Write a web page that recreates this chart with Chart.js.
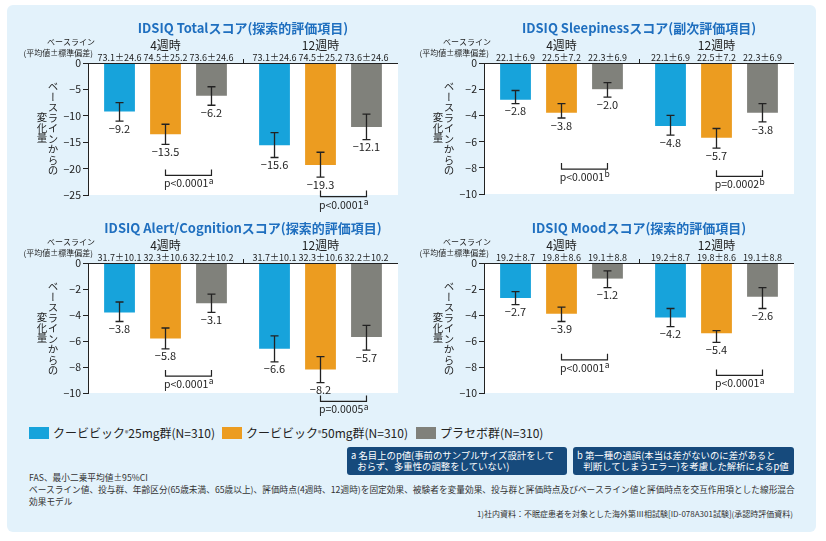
<!DOCTYPE html>
<html lang="ja">
<head>
<meta charset="utf-8">
<script src="https://cdn.jsdelivr.net/npm/chart.js@4.4.1/dist/chart.umd.min.js"></script>
<style>
  html, body { margin: 0; padding: 0; background: #fff; }
  body { width: 826px; height: 541px; position: relative; overflow: hidden; font-family: "Noto Sans CJK JP", "Noto Sans", sans-serif; color: #222; }
  #panel { position: absolute; left: 7px; top: 5px; width: 809px; height: 527px; background: #e3f2fb; border-radius: 6px; }
  canvas { position: absolute; }
  .ytitle { position: absolute; writing-mode: vertical-rl; font-size: 10.5px; line-height: 11px; width: 22px; height: 100px; text-align: center; white-space: nowrap; }
  .leg { position: absolute; top: 427px; font-size: 12px; line-height: 12px; display: flex; align-items: center; white-space: nowrap; }
  .leg i { display: inline-block; width: 20px; height: 12px; margin-right: 4px; }
  .leg sup { font-size: 7px; line-height: 0; }
  .note { position: absolute; top: 447px; height: 28px; background: #164a7c; color: #fff; border-radius: 3px; font-size: 9.4px; line-height: 11px; padding: 3px 0 0 4px; box-sizing: border-box; white-space: nowrap; }
  .foot { position: absolute; left: 29px; font-size: 8.7px; line-height: 12px; white-space: nowrap; color: #333; }
</style>
</head>
<body>
<div id="panel"></div>
<canvas id="total" width="413" height="212" style="left:0;top:0"></canvas>
<canvas id="sleep" width="413" height="212" style="left:413px;top:0"></canvas>
<canvas id="alert" width="413" height="208" style="left:0;top:212px"></canvas>
<canvas id="mood" width="413" height="208" style="left:413px;top:212px"></canvas>
<div id="legend"></div>
<div class="note" style="left:347px;width:220px">a 名目上のp値(事前のサンプルサイズ設計をして<br>&nbsp;&nbsp;&nbsp;おらず、多重性の調整をしていない)</div>
<div class="note" style="left:573px;width:221px">b 第一種の過誤(本当は差がないのに差があると<br>&nbsp;&nbsp;&nbsp;判断してしまうエラー)を考慮した解析によるp値</div>
<div class="foot" style="top:472px">FAS、最小二乗平均値±95%CI</div>
<div class="foot" style="top:484px">ベースライン値、投与群、年齢区分(65歳未満、65歳以上)、評価時点(4週時、12週時)を固定効果、被験者を変量効果、投与群と評価時点及びベースライン値と評価時点を交互作用項とした線形混合</div>
<div class="foot" style="top:496px">効果モデル</div>
<div class="foot" style="top:508px;left:auto;right:33px;font-size:8px">1)社内資料：不眠症患者を対象とした海外第Ⅲ相試験[ID-078A301試験](承認時評価資料)</div>
<script>
const visits = ["4週時", "12週時"];
const groupNames = ["クービビック®25mg群(N=310)", "クービビック®50mg群(N=310)", "プラセボ群(N=310)"];
const groupColors = ["#17a3db", "#ec9c20", "#80817b"];

// IDSIQ Total
const totalBase = ["73.1±24.6", "74.5±25.2", "73.6±24.6"];
const total25 = [-9.2, -15.6];
const total50 = [-13.5, -19.3];
const totalPbo = [-6.2, -12.1];
const total25Ci = [[-11.0, -7.5], [-17.9, -13.2]];
const total50Ci = [[-15.4, -11.6], [-21.6, -16.9]];
const totalPboCi = [[-8.0, -4.5], [-14.5, -9.7]];
const totalBracket = [-21.3, -25.3];
const totalP = ["p<0.0001", "p<0.0001"];

// IDSIQ Sleepiness
const sleepBase = ["22.1±6.9", "22.5±7.2", "22.3±6.9"];
const sleep25 = [-2.8, -4.8];
const sleep50 = [-3.8, -5.7];
const sleepPbo = [-2.0, -3.8];
const sleep25Ci = [[-3.1, -2.1], [-5.5, -4.0]];
const sleep50Ci = [[-4.2, -3.1], [-6.5, -5.0]];
const sleepPboCi = [[-2.6, -1.5], [-4.5, -3.1]];
const sleepBracket = [-8.1, -8.65];
const sleepP = ["p<0.0001", "p=0.0002"];

// IDSIQ Alert/Cognition
const alertBase = ["31.7±10.1", "32.3±10.6", "32.2±10.2"];
const alert25 = [-3.8, -6.6];
const alert50 = [-5.8, -8.2];
const alertPbo = [-3.1, -5.7];
const alert25Ci = [[-4.5, -3.0], [-7.6, -5.6]];
const alert50Ci = [[-6.6, -5.0], [-9.2, -7.2]];
const alertPboCi = [[-3.8, -2.4], [-6.7, -4.8]];
const alertBracket = [-8.7, -10.65];
const alertP = ["p<0.0001", "p=0.0005"];

// IDSIQ Mood
const moodBase = ["19.2±8.7", "19.8±8.6", "19.1±8.8"];
const mood25 = [-2.7, -4.2];
const mood50 = [-3.9, -5.4];
const moodPbo = [-1.2, -2.6];
const mood25Ci = [[-3.2, -2.2], [-4.9, -3.5]];
const mood50Ci = [[-4.5, -3.4], [-6.1, -5.2]];
const moodPboCi = [[-1.9, -0.6], [-3.5, -1.9]];
const moodBracket = [-7.45, -8.65];
const moodP = ["p<0.0001", "p<0.0001"];

const ff = '"Noto Sans CJK JP", "Noto Sans", sans-serif';
const ink = "#222";
const fmt = v => (v < 0 ? "\u2212" : "") + Math.abs(v).toFixed(1);

function annot(spec) {
    return {
        id: "annot",
        beforeDraw(chart) {
            const { ctx, chartArea: a } = chart;
            ctx.save();
            ctx.fillStyle = "#fff";
            ctx.fillRect(a.left, a.top, a.right - a.left, a.bottom - a.top);
            ctx.restore();
        },
        afterDatasetsDraw(chart) {
            const { ctx, chartArea: a, scales: { x, y } } = chart;
            const bars = [0, 1, 2].map(d => chart.getDatasetMeta(d).data);
            ctx.save();
            ctx.strokeStyle = ink;
            ctx.fillStyle = ink;
            ctx.textAlign = "center";
            ctx.textBaseline = "middle";

            // top axis line and the tick between the visits
            const sep = Math.round((x.getPixelForValue(0) + x.getPixelForValue(1)) / 2) + 0.5;
            ctx.lineWidth = 1;
            ctx.beginPath();
            ctx.moveTo(a.left, a.top + 0.5);
            ctx.lineTo(a.right, a.top + 0.5);
            ctx.moveTo(sep, a.top);
            ctx.lineTo(sep, a.top - 4);
            ctx.stroke();

            // error bars + value labels
            ctx.lineWidth = 1.3;
            ctx.font = "11px " + ff;
            spec.ci.forEach((ci, d) => ci.forEach(([lo, hi], i) => {
                const bx = bars[d][i].x;
                const y1 = y.getPixelForValue(lo), y2 = y.getPixelForValue(hi);
                ctx.beginPath();
                ctx.moveTo(bx, y1); ctx.lineTo(bx, y2);
                ctx.moveTo(bx - 4, y1); ctx.lineTo(bx + 4, y1);
                ctx.moveTo(bx - 4, y2); ctx.lineTo(bx + 4, y2);
                ctx.stroke();
                ctx.fillText(fmt(spec.values[d][i]), bx, y1 + 7.5);
            }));

            // baseline values above bars
            ctx.font = "9px " + ff;
            bars.forEach((pts, d) => pts.forEach(p => ctx.fillText(spec.base[d], p.x, a.top - 5.5)));

            // visit labels
            ctx.font = "12px " + ff;
            visits.forEach((v, i) => ctx.fillText(v, bars[1][i].x, a.top - 18));

            // baseline caption
            ctx.font = "8px " + ff;
            ctx.textAlign = "right";
            ctx.fillText("ベースライン", a.left + 7, a.top - 21.5);
            ctx.fillText("(平均値±標準偏差)", a.left + 5, a.top - 10.5);

            // title
            ctx.textAlign = "center";
            ctx.fillStyle = "#1f6fbf";
            ctx.font = "bold 13px " + ff;
            ctx.fillText(spec.title, (a.left + a.right) / 2, a.top - 34.5);

            // p-value brackets: 50mg vs placebo
            ctx.fillStyle = ink;
            ctx.lineWidth = 1.2;
            spec.bracket.forEach((b, i) => {
                const x1 = bars[1][i].x, x2 = bars[2][i].x, yb = y.getPixelForValue(b);
                ctx.beginPath();
                ctx.moveTo(x1, yb - 6); ctx.lineTo(x1, yb); ctx.lineTo(x2, yb); ctx.lineTo(x2, yb - 6);
                ctx.stroke();
                ctx.font = "10.5px " + ff;
                const w1 = ctx.measureText(spec.p[i]).width;
                ctx.font = "8.5px " + ff;
                const w2 = ctx.measureText(spec.pNote).width;
                const sx = (x1 + x2) / 2 - (w1 + w2) / 2;
                ctx.textAlign = "left";
                ctx.font = "10.5px " + ff;
                ctx.fillText(spec.p[i], sx, yb + 8);
                ctx.font = "8.5px " + ff;
                ctx.fillText(spec.pNote, sx + w1 + 0.5, yb + 5);
                ctx.textAlign = "center";
            });
            ctx.restore();
        }
    };
}

function makeChart(id, spec) {
    const values = spec.values;
    return new Chart(document.getElementById(id), {
        type: "bar",
        data: {
            labels: visits,
            datasets: values.map((v, d) => ({
                label: groupNames[d],
                data: v,
                backgroundColor: groupColors[d],
                borderWidth: 0,
                barPercentage: 0.67,
                categoryPercentage: 0.89,
            })),
        },
        options: {
            responsive: false,
            animation: false,
            layout: { padding: spec.pad },
            plugins: { legend: { display: false }, tooltip: { enabled: false } },
            scales: {
                x: { display: false },
                y: {
                    min: spec.ymin,
                    max: 0,
                    ticks: {
                        stepSize: spec.step,
                        color: ink,
                        padding: 2,
                        font: { size: 10.5, family: ff },
                        callback: v => (v < 0 ? "\u2212" : "") + Math.abs(v),
                    },
                    grid: { drawOnChartArea: false, tickLength: 5, color: ink },
                    border: { color: ink, width: 1 },
                    afterFit: s => { s.width = spec.yWidth; },
                },
            },
        },
        plugins: [annot(spec)],
    });
}

const charts = [
    ["total", 0, 0, {
        title: "IDSIQ Totalスコア(探索的評価項目)", base: totalBase,
        values: [total25, total50, totalPbo], ci: [total25Ci, total50Ci, totalPboCi],
        ymin: -25, step: 5, bracket: totalBracket, p: totalP, pNote: "a",
        pad: { left: 0, top: 63, right: 15, bottom: 17 }, yWidth: 88,
    }],
    ["sleep", 413, 0, {
        title: "IDSIQ Sleepinessスコア(副次評価項目)", base: sleepBase,
        values: [sleep25, sleep50, sleepPbo], ci: [sleep25Ci, sleep50Ci, sleepPboCi],
        ymin: -10, step: 2, bracket: sleepBracket, p: sleepP, pNote: "b",
        pad: { left: 0, top: 63, right: 32, bottom: 18 }, yWidth: 71,
    }],
    ["alert", 0, 212, {
        title: "IDSIQ Alert/Cognitionスコア(探索的評価項目)", base: alertBase,
        values: [alert25, alert50, alertPbo], ci: [alert25Ci, alert50Ci, alertPboCi],
        ymin: -10, step: 2, bracket: alertBracket, p: alertP, pNote: "a",
        pad: { left: 0, top: 51, right: 15, bottom: 27 }, yWidth: 88,
    }],
    ["mood", 413, 212, {
        title: "IDSIQ Moodスコア(探索的評価項目)", base: moodBase,
        values: [mood25, mood50, moodPbo], ci: [mood25Ci, mood50Ci, moodPboCi],
        ymin: -10, step: 2, bracket: moodBracket, p: moodP, pNote: "a",
        pad: { left: 0, top: 51, right: 32, bottom: 27 }, yWidth: 71,
    }],
];

charts.forEach(([id, cx, cy, spec]) => {
    const chart = makeChart(id, spec);
    const a = chart.chartArea;
    const t = document.createElement("div");
    t.className = "ytitle";
    t.innerHTML = "ベースラインからの<br>変化量";
    t.style.left = (cx + a.left - 40.5 - 11) + "px";
    t.style.top = (cy + a.top + 65 - 50) + "px";
    document.body.appendChild(t);
});

// legend
const legendLeft = [29, 222, 416];
const legend = document.getElementById("legend");
groupNames.forEach((name, d) => {
    const el = document.createElement("div");
    el.className = "leg";
    el.style.left = legendLeft[d] + "px";
    el.innerHTML = '<i style="background:' + groupColors[d] + '"></i>' + name.replace("®", "<sup>®</sup>");
    legend.appendChild(el);
});
</script>
</body>
</html>
